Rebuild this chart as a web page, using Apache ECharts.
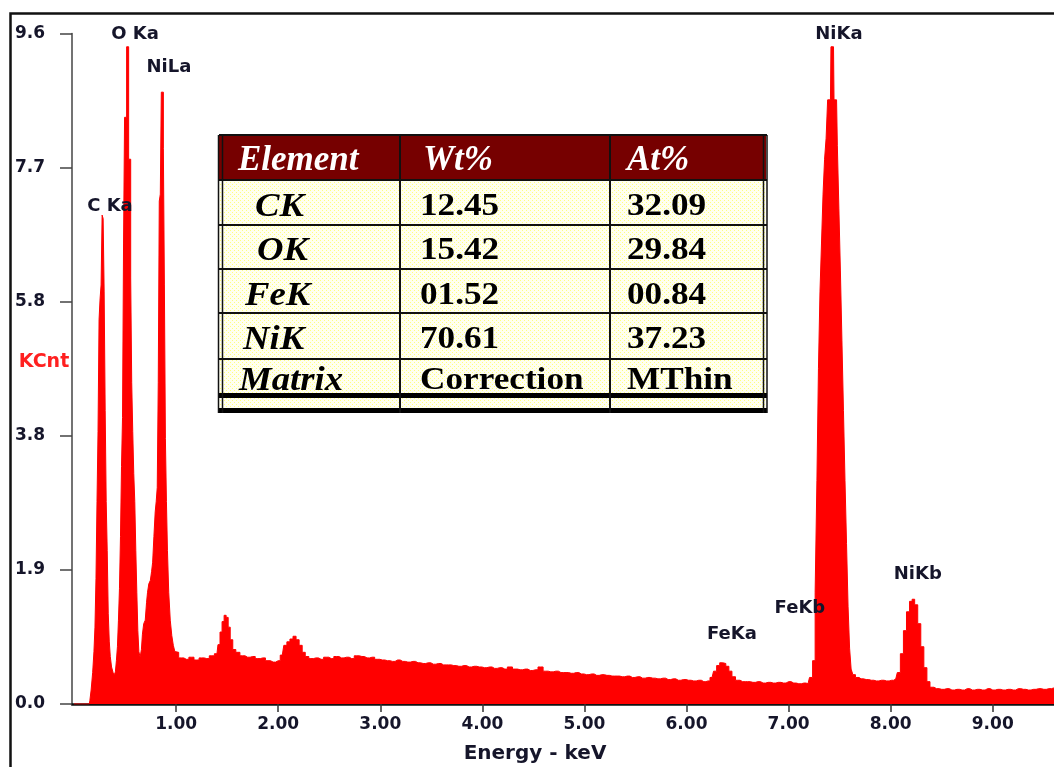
<!DOCTYPE html>
<html>
<head>
<meta charset="utf-8">
<title>EDS spectrum</title>
<script src="https://cdn.jsdelivr.net/npm/echarts@6/dist/echarts.min.js"></script>
<style>
  html, body { margin: 0; padding: 0; background: #fff; }
  #chart { width: 1054px; height: 767px; }
</style>
</head>
<body>
<div id="chart"></div>
<script>
// ---- Spectrum: [energy keV, counts KCnt] ----
const lightElementPeaks = [
  [0.00, 0], [0.15, 0], [0.16, 0.05], [0.175, 0.2], [0.19, 0.45], [0.20, 0.75], [0.21, 1.1],
  [0.22, 1.8], [0.23, 2.9], [0.24, 3.9], [0.25, 5.5], [0.26, 5.8], [0.27, 6.0], [0.28, 7.0],
  [0.29, 6.95], [0.30, 5.9], [0.31, 4.2], [0.32, 2.9], [0.33, 2.2], [0.34, 1.3], [0.35, 0.9],
  [0.36, 0.68], [0.375, 0.53], [0.39, 0.45], [0.40, 0.42], [0.41, 0.46], [0.42, 0.62],
  [0.43, 0.82], [0.44, 1.2], [0.45, 1.65], [0.46, 2.4], [0.47, 3.4], [0.48, 4.1], [0.49, 6.6],
  [0.50, 8.4], [0.51, 8.4], [0.52, 9.41], [0.53, 9.41], [0.54, 7.8], [0.55, 7.8], [0.56, 6.1],
  [0.57, 4.6], [0.58, 3.9], [0.59, 3.3], [0.60, 2.9], [0.61, 2.2], [0.62, 1.6], [0.63, 1.05],
  [0.64, 0.75], [0.655, 0.67], [0.665, 0.78], [0.675, 1.0], [0.69, 1.15], [0.705, 1.2],
  [0.715, 1.45], [0.725, 1.6], [0.74, 1.72], [0.755, 1.77], [0.765, 1.9], [0.775, 2.03],
  [0.79, 2.4], [0.80, 2.75], [0.81, 2.9], [0.82, 3.1], [0.83, 4.6], [0.84, 7.2], [0.85, 7.3],
  [0.86, 8.76], [0.87, 8.76], [0.88, 7.95], [0.89, 6.0], [0.90, 3.8], [0.91, 2.9], [0.92, 2.2],
  [0.935, 1.6], [0.95, 1.2], [0.965, 0.98], [0.98, 0.84], [0.995, 0.75]
];
const midBackground = [
  [1.00, 0.74], [1.05, 0.66], [1.10, 0.64], [1.15, 0.67], [1.20, 0.63], [1.25, 0.66], [1.30, 0.65],
  [1.35, 0.69], [1.40, 0.72], [1.42, 0.85], [1.44, 1.03], [1.46, 1.18], [1.48, 1.27], [1.50, 1.24],
  [1.52, 1.10], [1.54, 0.92], [1.57, 0.78], [1.60, 0.74], [1.65, 0.69], [1.70, 0.67], [1.75, 0.68],
  [1.80, 0.65], [1.85, 0.66], [1.90, 0.62], [1.95, 0.60], [2.00, 0.62], [2.04, 0.70], [2.07, 0.84],
  [2.10, 0.89], [2.13, 0.93], [2.16, 0.97], [2.19, 0.92], [2.22, 0.84], [2.25, 0.74], [2.28, 0.68],
  [2.32, 0.65], [2.37, 0.66], [2.42, 0.64], [2.47, 0.67], [2.52, 0.65], [2.57, 0.68], [2.62, 0.66],
  [2.67, 0.67], [2.72, 0.65], [2.77, 0.69], [2.82, 0.68], [2.87, 0.66], [2.92, 0.67], [2.97, 0.64],
  [3.02, 0.63], [3.07, 0.62], [3.12, 0.61], [3.17, 0.63], [3.22, 0.61], [3.27, 0.60], [3.32, 0.61],
  [3.37, 0.59], [3.42, 0.58], [3.47, 0.59], [3.52, 0.57], [3.57, 0.58], [3.62, 0.56], [3.67, 0.56],
  [3.72, 0.55], [3.77, 0.54], [3.82, 0.55], [3.87, 0.53], [3.92, 0.54], [3.97, 0.53], [4.02, 0.52],
  [4.07, 0.53], [4.12, 0.51], [4.17, 0.52], [4.22, 0.50], [4.27, 0.53], [4.32, 0.50], [4.37, 0.49],
  [4.42, 0.50], [4.47, 0.48], [4.52, 0.49], [4.57, 0.53], [4.62, 0.47], [4.67, 0.46], [4.72, 0.47],
  [4.77, 0.45], [4.82, 0.45], [4.87, 0.44], [4.92, 0.45], [4.97, 0.43], [5.02, 0.42], [5.07, 0.43],
  [5.12, 0.41], [5.17, 0.42], [5.22, 0.41], [5.27, 0.40], [5.32, 0.40], [5.37, 0.39], [5.42, 0.40],
  [5.47, 0.38], [5.52, 0.39], [5.57, 0.37], [5.62, 0.38], [5.67, 0.37], [5.72, 0.36], [5.77, 0.37],
  [5.82, 0.35], [5.87, 0.36], [5.92, 0.34], [5.97, 0.35], [6.02, 0.34], [6.07, 0.33], [6.12, 0.34],
  [6.17, 0.32], [6.21, 0.33]
];
const ironRegion = [
  [6.25, 0.38], [6.28, 0.47], [6.31, 0.55], [6.34, 0.59], [6.37, 0.58], [6.40, 0.54], [6.43, 0.47],
  [6.46, 0.39], [6.50, 0.34], [6.55, 0.32], [6.60, 0.32], [6.65, 0.31], [6.70, 0.32], [6.75, 0.30],
  [6.80, 0.31], [6.85, 0.30], [6.90, 0.31], [6.95, 0.30], [7.00, 0.32], [7.05, 0.30], [7.10, 0.29],
  [7.15, 0.30], [7.19, 0.29], [7.22, 0.38], [7.25, 0.62]
];
const nickelKRegion = [
  [7.27, 1.6], [7.285, 3.2], [7.30, 4.8], [7.315, 5.9], [7.33, 6.6], [7.345, 7.3], [7.36, 7.8],
  [7.375, 8.1], [7.39, 8.65], [7.41, 8.65], [7.42, 9.41], [7.44, 9.41], [7.45, 8.65], [7.47, 8.65],
  [7.485, 8.0], [7.50, 7.1], [7.515, 6.2], [7.53, 5.2], [7.545, 4.2], [7.56, 3.2], [7.575, 2.3],
  [7.59, 1.4], [7.605, 0.8], [7.62, 0.5], [7.64, 0.42], [7.67, 0.38], [7.71, 0.36], [7.76, 0.35],
  [7.81, 0.34], [7.86, 0.33], [7.91, 0.34], [7.96, 0.33], [8.01, 0.34], [8.05, 0.36], [8.08, 0.45],
  [8.11, 0.72], [8.14, 1.05], [8.17, 1.32], [8.20, 1.47], [8.22, 1.50], [8.25, 1.42], [8.28, 1.15],
  [8.31, 0.82], [8.34, 0.52], [8.37, 0.32], [8.40, 0.24]
];
const highEnergyTail = [
  [8.45, 0.22], [8.50, 0.21], [8.55, 0.22], [8.60, 0.20], [8.65, 0.21], [8.70, 0.20], [8.75, 0.22],
  [8.80, 0.20], [8.85, 0.21], [8.90, 0.20], [8.95, 0.22], [9.00, 0.20], [9.05, 0.21], [9.10, 0.20],
  [9.15, 0.21], [9.20, 0.20], [9.25, 0.22], [9.30, 0.21], [9.35, 0.20], [9.40, 0.21], [9.45, 0.22],
  [9.50, 0.21], [9.55, 0.22], [9.60, 0.23]
];

// ---- Peak identification labels ----
const peakNames = ['C Ka', 'O Ka', 'NiLa', 'FeKa', 'FeKb', 'NiKa', 'NiKb'];
const peakLabelKeV = [0.352, 0.597, 0.930, 6.445, 7.111, 7.493, 8.266];
const peakLabelKCnt = [7.12, 9.59, 9.12, 1.00, 1.37, 9.59, 1.85];

// ---- Axis ticks ----
const energyTicks = [1, 2, 3, 4, 5, 6, 7, 8, 9];
const countMax = 9.6;
const countStep = 1.92;

// ---- Quantification table ----
const tableHeader = ['Element', 'Wt%', 'At%'];
const tableElements = ['CK', 'OK', 'FeK', 'NiK', 'Matrix'];
const tableWt = ['12.45', '15.42', '01.52', '70.61', 'Correction'];
const tableAt = ['32.09', '29.84', '00.84', '37.23', 'MThin'];

const spectrum = [].concat(lightElementPeaks, midBackground, ironRegion, nickelKRegion, highEnergyTail);

const axisFont = 'DejaVu Sans';
const inkColor = '#15152a';
const serif = '"Liberation Serif", "Times New Roman", serif';

// dotted pale-yellow fill for the table body
const dotTile = document.createElement('canvas');
dotTile.width = 4; dotTile.height = 4;
(function () {
  const c = dotTile.getContext('2d');
  c.fillStyle = '#fffff0'; c.fillRect(0, 0, 4, 4);
  c.fillStyle = '#ffff80'; c.fillRect(0, 0, 1, 1); c.fillRect(2, 2, 1, 1);
})();

// table layout (pixels)
const tLeft = 219, tRight = 766, tTop = 135;
const rowY = [135, 180, 225, 269, 313, 359];
const rowMid = [206, 250, 295, 339, 380];
const elemLeft = [255, 257, 245, 243, 239];

const tableGraphics = [];
tableGraphics.push({ type: 'rect', shape: { x: tLeft, y: tTop, width: tRight - tLeft, height: 45 }, style: { fill: '#760000' }, z: 10 });
tableGraphics.push({ type: 'rect', shape: { x: tLeft, y: 180, width: tRight - tLeft, height: 232 }, style: { fill: { image: dotTile, repeat: 'repeat' } }, z: 10 });
// header text
const headerLeft = [238, 423, 627];
tableHeader.forEach((h, i) => {
  tableGraphics.push({ type: 'text', x: headerLeft[i], y: 161, z: 12,
    style: { text: h, fill: '#ffffff', font: 'italic bold 35px ' + serif, align: 'left', verticalAlign: 'middle',
      textShadowColor: 'rgba(90,130,220,0.8)', textShadowOffsetX: 1, textShadowOffsetY: 1, textShadowBlur: 0 } });
});
// body text
tableElements.forEach((e, i) => {
  tableGraphics.push({ type: 'text', x: elemLeft[i], y: rowMid[i] + 1, scaleX: 1.08, z: 12,
    style: { text: e, fill: '#000', font: 'italic bold 34px ' + serif, align: 'left', verticalAlign: 'middle' } });
  tableGraphics.push({ type: 'text', x: 420, y: rowMid[i] + 1, scaleX: 1.1, z: 12,
    style: { text: tableWt[i], fill: '#000', font: 'bold 32px ' + serif, align: 'left', verticalAlign: 'middle' } });
  tableGraphics.push({ type: 'text', x: 627, y: rowMid[i] + 1, scaleX: 1.1, z: 12,
    style: { text: tableAt[i], fill: '#000', font: 'bold 32px ' + serif, align: 'left', verticalAlign: 'middle' } });
});
// grid lines
rowY.forEach(y => {
  tableGraphics.push({ type: 'line', z: 14, shape: { x1: tLeft, y1: y, x2: tRight + 1, y2: y }, style: { stroke: '#111', lineWidth: 2 } });
});
tableGraphics.push({ type: 'line', z: 14, shape: { x1: tLeft - 1, y1: 395.5, x2: tRight + 1, y2: 395.5 }, style: { stroke: '#000', lineWidth: 5 } });
tableGraphics.push({ type: 'line', z: 14, shape: { x1: tLeft - 1, y1: 410.5, x2: tRight + 1, y2: 410.5 }, style: { stroke: '#000', lineWidth: 5 } });
[218.5, 222.5, 763.5, 767].forEach(x => {
  tableGraphics.push({ type: 'line', z: 14, shape: { x1: x, y1: tTop, x2: x, y2: 413 }, style: { stroke: '#111', lineWidth: 1.5 } });
});
[400, 610].forEach(x => {
  tableGraphics.push({ type: 'line', z: 14, shape: { x1: x, y1: tTop, x2: x, y2: 413 }, style: { stroke: '#111', lineWidth: 2 } });
});

const chart = echarts.init(document.getElementById('chart'));
chart.setOption({
  animation: false,
  backgroundColor: '#ffffff',
  grid: { left: 72, right: 0, top: 33.5, bottom: 63 },
  xAxis: {
    type: 'value',
    min: -0.02,
    max: 9.6,
    axisLine: { show: true, onZero: false, lineStyle: { color: '#111', width: 2.5 } },
    axisTick: { show: true, customValues: energyTicks, length: 8, lineStyle: { color: '#333', width: 1.5 } },
    axisLabel: { customValues: energyTicks, formatter: v => v.toFixed(2), margin: 12,
      fontFamily: axisFont, fontWeight: 'bold', fontSize: 17, color: inkColor },
    splitLine: { show: false }
  },
  yAxis: {
    type: 'value',
    min: 0,
    max: countMax,
    interval: countStep,
    axisLine: { show: true, onZero: false, lineStyle: { color: '#444', width: 1.5 } },
    axisTick: { show: true, length: 12, lineStyle: { color: '#444', width: 1.5 } },
    axisLabel: { formatter: v => v.toFixed(1), margin: 27,
      fontFamily: axisFont, fontWeight: 'bold', fontSize: 17, color: inkColor },
    splitLine: { show: false }
  },
  series: [
    {
      type: 'line',
      data: spectrum,
      step: 'middle',
      symbol: 'none',
      lineStyle: { color: '#ff0000', width: 1 },
      areaStyle: { color: '#ff0000', opacity: 1 },
      z: 2
    },
    {
      type: 'scatter',
      data: peakNames.map((n, i) => ({ name: n, value: [peakLabelKeV[i], peakLabelKCnt[i]] })),
      symbolSize: 0,
      clip: false,
      z: 5,
      itemStyle: { opacity: 1 },
      label: { show: true, position: 'inside', formatter: p => p.name,
        fontFamily: axisFont, fontWeight: 'bold', fontSize: 18, color: inkColor }
    }
  ],
  graphic: [
    { type: 'rect', z: 20, shape: { x: 10.5, y: 13.5, width: 1100, height: 800 }, style: { fill: 'none', stroke: '#111', lineWidth: 2.5 } },
    { type: 'text', x: 44, y: 362, z: 20, style: { text: 'KCnt', fill: '#ff2020', font: 'bold 19px ' + axisFont, align: 'center', verticalAlign: 'middle' } },
    { type: 'text', x: 535, y: 754, z: 20, style: { text: 'Energy - keV', fill: inkColor, font: 'bold 20px ' + axisFont, align: 'center', verticalAlign: 'middle' } }
  ].concat(tableGraphics)
});
</script>
</body>
</html>
